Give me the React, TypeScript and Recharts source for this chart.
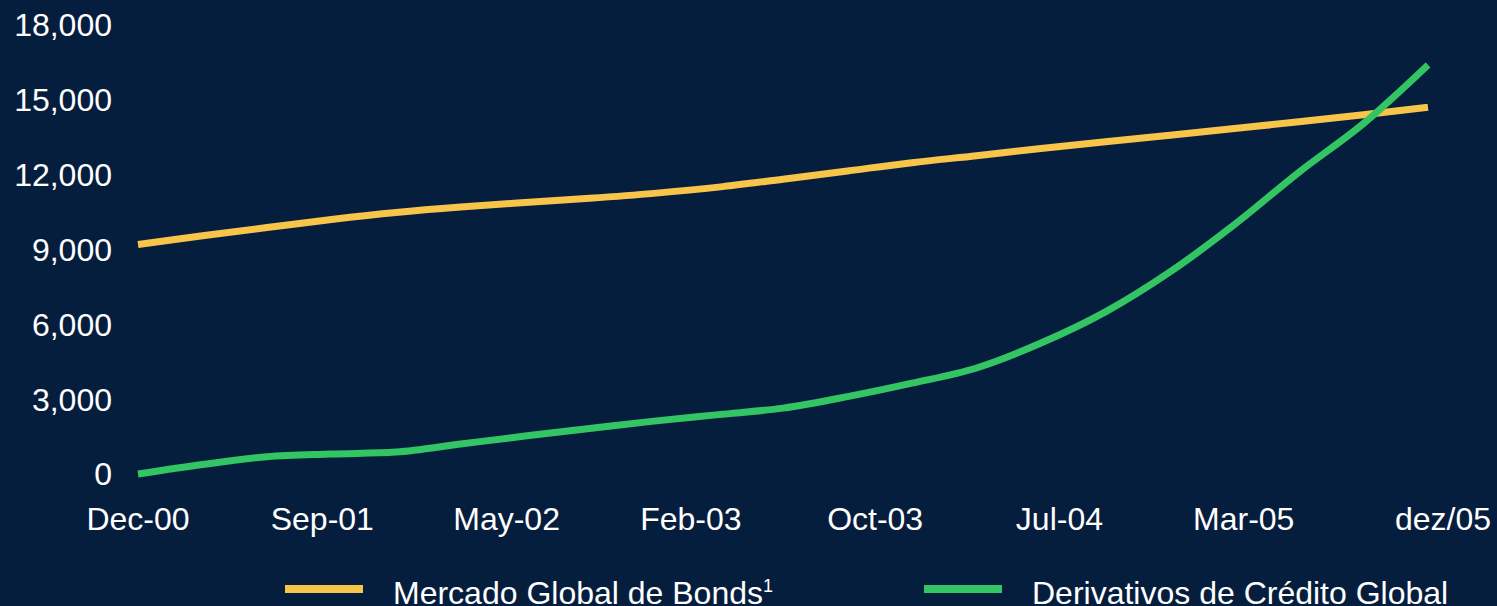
import React from 'react';
import { LineChart, Line, XAxis, YAxis } from 'recharts';

// months since Dec-00, read every quarter off the chart
const months = [0, 3, 6, 9, 12, 15, 18, 21, 24, 27, 30, 33, 36, 39, 42, 45, 48, 51, 54, 57, 60];
const bonds = [9200, 9550, 9880, 10200, 10480, 10700, 10880, 11050, 11250, 11500, 11820, 12150, 12480, 12760, 13050, 13320, 13580, 13850, 14120, 14400, 14700];
const creditDerivatives = [0, 380, 690, 800, 880, 1200, 1520, 1820, 2120, 2380, 2640, 3100, 3640, 4250, 5250, 6500, 8100, 10000, 12100, 14050, 16400];

const xLabels = ['Dec-00', 'Sep-01', 'May-02', 'Feb-03', 'Oct-03', 'Jul-04', 'Mar-05', 'dez/05'];
const yTicks = [0, 3000, 6000, 9000, 12000, 15000, 18000];

const seriesNames = ['Mercado Global de Bonds', 'Derivativos de Crédito Global'];
const seriesNotes = ['1', ''];
const seriesColors = ['#f6c54a', '#33c464'];

const LAST_MONTH = months[months.length - 1];
const xTicks = xLabels.map((_, i) => (i * LAST_MONTH) / (xLabels.length - 1));

const data = months.map((m, i) => ({
  month: m,
  bonds: bonds[i],
  cds: creditDerivatives[i],
}));

const BG = '#061e3d';
const FONT = '"Liberation Sans", Arial, sans-serif';
const FS = 32;

const XTick = (props: any) => {
  const { x, y, index } = props;
  const last = index === xLabels.length - 1;
  return (
    <text x={x + (last ? 15 : 0)} y={y} dy="0.71em" textAnchor="middle" fill="#fff" fontSize={FS} fontFamily={FONT}>
      {xLabels[index]}
    </text>
  );
};

const legendLeft = [285, 924];

export default function App() {
  return (
    <div style={{ position: 'fixed', left: 0, top: 0, width: 1497, height: 606, background: BG, overflow: 'hidden' }}>
      <LineChart width={1497} height={606} data={data} margin={{ top: 25, right: 69, left: 0, bottom: 0 }}>
        <XAxis
          dataKey="month"
          type="number"
          domain={[0, LAST_MONTH]}
          ticks={xTicks}
          interval={0}
          axisLine={false}
          tickLine={false}
          tickSize={0}
          tickMargin={33}
          height={132}
          tick={<XTick />}
        />
        <YAxis
          domain={[0, 18000]}
          ticks={yTicks}
          interval={0}
          width={138}
          axisLine={false}
          tickLine={false}
          tickSize={0}
          tickMargin={26}
          tick={{ fill: '#fff', fontSize: FS, fontFamily: FONT }}
          tickFormatter={(v: number) => v.toLocaleString('en-US')}
        />
        <Line type="monotone" dataKey="bonds" stroke={seriesColors[0]} strokeWidth={7} dot={false} isAnimationActive={false} />
        <Line type="monotone" dataKey="cds" stroke={seriesColors[1]} strokeWidth={7} dot={false} isAnimationActive={false} />
      </LineChart>
      {seriesNames.map((name, i) => (
        <div
          key={name}
          style={{ position: 'absolute', left: legendLeft[i], top: 577, height: 32, display: 'flex', alignItems: 'center', fontFamily: FONT, color: '#fff' }}
        >
          <span style={{ display: 'inline-block', width: 78, height: 8, background: seriesColors[i], marginRight: 30, position: 'relative', top: -4 }} />
          <span style={{ fontSize: FS, lineHeight: '32px', whiteSpace: 'nowrap' }}>
            {name}
            {seriesNotes[i] && <sup style={{ fontSize: 18, lineHeight: 0, verticalAlign: 'super' }}>{seriesNotes[i]}</sup>}
          </span>
        </div>
      ))}
    </div>
  );
}
